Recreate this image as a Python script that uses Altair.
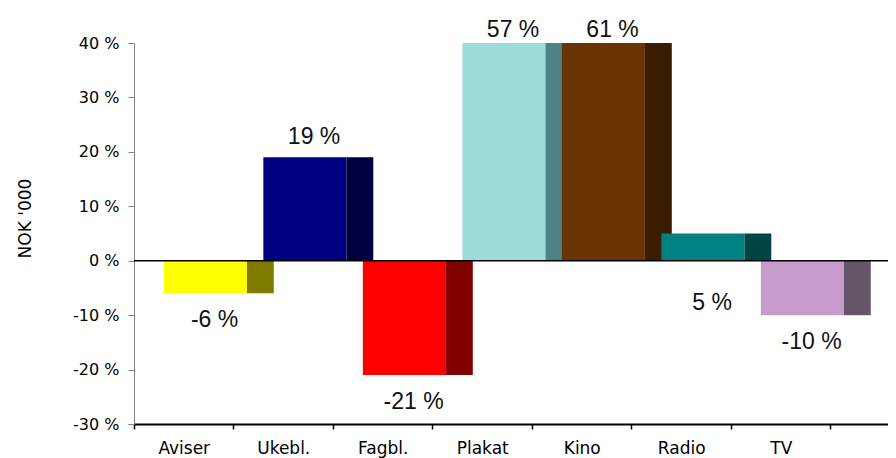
import json
import altair as alt
import pandas as pd

# ---- data ----
categories = ["Aviser", "Ukebl.", "Fagbl.", "Plakat", "Kino", "Radio", "TV"]
values = [-6, 19, -21, 57, 61, 5, -10]          # % change
front_colors = ["#FFFF00", "#000080", "#FF0000", "#9EDCDC", "#6A3400", "#008080", "#C99ACC"]
side_colors = ["#807A00", "#000040", "#800000", "#4F8383", "#3A1D00", "#004545", "#665468"]
y_ticks = [-30, -20, -10, 0, 10, 20, 30, 40]
label_below_axis = ["Radio"]                     # label placed under the zero line

# ---- style constants (band units) ----
BAR_START = 0.30
FRONT_W = 0.835
SIDE_W = 0.27
LABEL_POS = 0.81
X_MAX = 7.578
W, H = 754, 381

rows = []
for i, (c, v) in enumerate(zip(categories, values)):
    rows.append({"cat": c, "part": "front", "x": i + BAR_START, "x2": i + BAR_START + FRONT_W,
                 "v": v, "col": front_colors[i]})
    rows.append({"cat": c, "part": "side", "x": i + BAR_START + FRONT_W,
                 "x2": i + BAR_START + FRONT_W + SIDE_W, "v": v, "col": side_colors[i]})
bars_df = pd.DataFrame(rows)
bars_df["zero"] = 0

lab_df = pd.DataFrame({
    "cat": categories,
    "v": values,
    "lx": [i + LABEL_POS for i in range(len(categories))],
})
lab_df["txt"] = lab_df["v"].astype(str) + " %"
lab_df["below"] = lab_df["cat"].isin(label_below_axis)
lab_df["zero"] = 0

xscale = alt.Scale(domain=[0, X_MAX], nice=False, zero=False)
yscale = alt.Scale(domain=[-30, 40], nice=False, zero=False, clamp=True)

cat_js = json.dumps(categories)
x_axis = alt.Axis(
    values=list(range(8)), title=None, grid=False,
    labelExpr=f"datum.value < {len(categories)} ? {cat_js}[datum.value] : ''",
    labelOffset=49.75, labelFlush=False, labelOverlap=False, labelBound=False,
    labelFont="DejaVu Sans", labelFontSize=17, labelColor="#000000", labelPadding=11,
    domainColor="#000000", domainWidth=2, tickColor="#000000", tickSize=5, tickWidth=1.5,
)
y_axis = alt.Axis(
    values=y_ticks, title="NOK '000", grid=False,
    labelExpr="datum.value + ' %'",
    labelFont="DejaVu Sans", labelFontSize=16, labelColor="#000000", labelPadding=9,
    domainColor="#808080", domainWidth=1, tickColor="#808080", tickSize=6,
    titleFont="DejaVu Sans", titleFontSize=17, titleFontWeight="normal", titleColor="#000000",
    titleAngle=270, titleX=-109, titleY=175, titleAlign="center", titleBaseline="middle",
)

bars = alt.Chart(bars_df).mark_bar(strokeWidth=0).encode(
    x=alt.X("x:Q", scale=xscale, axis=x_axis),
    x2="x2:Q",
    y=alt.Y("zero:Q", scale=yscale, axis=y_axis),
    y2="v:Q",
    color=alt.Color("col:N", scale=None),
)

zero_line = alt.Chart(pd.DataFrame({"z": [0]})).mark_rule(color="#000000", strokeWidth=1.5).encode(
    y=alt.Y("z:Q", scale=yscale)
)

txt_kw = dict(font="Liberation Sans", fontSize=23, color="#111111", align="center", baseline="alphabetic")
base_txt = alt.Chart(lab_df).encode(
    x=alt.X("lx:Q", scale=xscale), text="txt:N"
)
t_pos = base_txt.transform_filter("datum.v > 0 && datum.v <= 40 && !datum.below").mark_text(dy=-13, **txt_kw).encode(
    y=alt.Y("v:Q", scale=yscale))
t_clamp = base_txt.transform_filter("datum.v > 40").mark_text(dy=-6, **txt_kw).encode(
    y=alt.Y("v:Q", scale=yscale))
t_neg = base_txt.transform_filter("datum.v < 0").mark_text(dy=34, **txt_kw).encode(
    y=alt.Y("v:Q", scale=yscale))
t_below = base_txt.transform_filter("datum.below").mark_text(dy=49, **txt_kw).encode(
    y=alt.Y("zero:Q", scale=yscale))

chart = alt.layer(bars, zero_line, t_pos, t_clamp, t_neg, t_below).properties(
    width=W, height=H,
    autosize=alt.AutoSizeParams(type="none"),
    padding={"left": 126, "top": 35, "right": 0, "bottom": 34},
    background="#FFFFFF",
).configure_view(stroke=None)

chart.save("out.html", embed_options={"renderer": "svg", "actions": False})
